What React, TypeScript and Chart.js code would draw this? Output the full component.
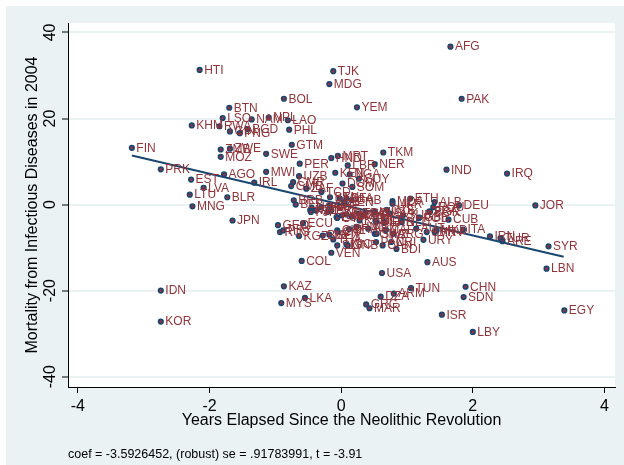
import React, { useEffect, useRef } from "react";
import { Chart, registerables } from "chart.js";

Chart.register(...registerables);

const codes = [
  "AFG","HTI","TJK","MDG","BOL","PAK","YEM","BTN","LSO","NAM","NPL","LAO","KHM","RWA","GIN","PNG","BGD","PHL","GTM","FIN",
  "ZMB","ZWE","MOZ","SWE","TKM","HND","MRT","PER","LBR","NER","IND","IRQ","PRK","MWI","UZB","KEN","NGA","GUY","AGO","EST",
  "IRL","LVA","LTU","BLR","MNG","JPN","CMR","GMB","ZAF","TCD","DOM","SOM","BEN","MLI","BFA","SEN","GAB","BRB","BEL","NOR",
  "NZL","CHE","PRT","ESP","MDA","UKR","ETH","ALB","ROU","BGR","DEU","CUB","ITA","MKD","HRV","SVN","AUT","IRN","TUR","ARE",
  "SYR","LBN","JOR","URY","FRA","POL","CZE","SVK","HUN","BIH","SRB","CAF","GHA","PAN","CAN","CRI","BDI","ARG","NLD","GBR",
  "AUS","USA","CHN","SDN","TUN","ARM","DZA","GRC","MAR","ISR","LBY","EGY","IDN","KOR","KAZ","MYS","LKA","COL","VEN","GEO",
  "ECU","RUS","PRY","KGZ","MEX","THA","BRA","CHL","SLV","NIC","AZE","TTO","JAM","FJI","SAU","KWT","OMN","ISL","LUX","CYP",
  "MLT","SUR","BLZ","HND2","ARM2","GNB","TGO","SLE","CIV","SWZ"
];
const xs = [
  1.66,-2.15,-0.12,-0.18,-0.87,1.83,0.24,-1.70,-1.80,-1.36,-1.10,-0.81,-2.27,-1.85,-1.69,-1.54,-1.42,-0.79,-0.75,-3.18,
  -1.83,-1.69,-1.83,-1.14,0.64,-0.15,-0.05,-0.63,0.10,0.51,1.60,2.52,-2.74,-1.14,-0.64,-0.09,0.13,0.27,-1.78,-2.28,
  -1.32,-2.09,-2.30,-1.73,-2.26,-1.65,-0.73,-0.76,-0.53,-0.30,0.02,0.17,-0.17,-0.02,0.08,0.05,0.16,-0.72,-0.69,-0.45,
  -0.47,-0.17,-0.15,-0.07,0.78,0.78,1.05,1.42,1.40,1.35,1.79,1.63,1.85,1.45,1.42,1.30,1.14,2.26,2.42,2.45,
  3.15,3.12,2.95,1.25,1.34,1.18,0.69,0.74,0.51,0.53,0.66,0.68,0.51,0.53,0.63,0.76,0.84,0.79,0.92,1.19,
  1.31,0.62,1.89,1.86,1.06,0.80,0.60,0.38,0.43,1.53,2.00,3.39,-2.74,-2.74,-0.87,-0.91,-0.55,-0.60,-0.15,-0.96,
  -0.58,-0.93,-0.88,-0.64,-0.18,-0.12,0.12,-0.06,-0.06,0.08,-0.38,-0.21,-0.30,-0.46,0.36,0.28,0.16,0.08,0.01,-0.06,
  0.52,0.94,-0.28,0.23,0.41,0.10,0.26,0.33,-0.05,0.54
];
const ys = [
  36.7,31.3,31.0,28.0,24.6,24.6,22.6,22.5,20.1,19.8,20.2,19.6,18.4,18.2,17.0,16.6,17.5,17.4,13.9,13.2,
  12.8,13.0,11.1,11.8,12.1,10.8,11.3,9.5,9.1,9.4,8.1,7.2,8.2,7.6,6.6,7.4,7.0,6.0,7.0,5.8,
  5.1,3.9,2.3,1.7,-0.4,-3.7,5.2,4.3,3.7,2.9,4.9,4.1,1.7,1.4,1.4,0.6,1.0,1.0,0.0,-0.7,
  -1.3,-0.2,-1.3,-2.9,0.8,0.2,1.4,0.6,-0.6,-1.7,-0.2,-3.5,-5.8,-6.0,-6.4,-6.4,-5.6,-7.4,-7.8,-8.5,
  -9.7,-14.9,-0.2,-8.2,-1.6,-3.1,-1.2,-2.1,-1.7,-4.1,-4.1,-5.9,-6.8,-8.7,-9.5,-8.7,-10.3,-6.8,-4.1,-3.0,
  -13.4,-15.9,-19.1,-21.5,-19.4,-20.7,-21.4,-23.2,-24.1,-25.6,-29.6,-24.6,-20.0,-27.2,-19.0,-22.9,-21.7,-13.1,-11.2,-4.8,
  -4.3,-6.4,-6.0,-7.3,-7.0,-8.1,-5.7,-6.0,-9.5,-9.3,-1.4,-1.7,-0.6,-1.7,-2.1,-3.7,-2.8,-2.3,-2.5,-3.1,
  -3.7,-2.5,-7.2,-5.2,-5.6,-9.5,-2.1,-2.5,-6.4,-6.8
];
const labels = codes.map((c) => c.replace(/\d+$/, ""));

const fitX = [-3.18, 3.38];
const fitY = [11.42, -12.14];

const xTicks = [-4, -2, 0, 2, 4];
const yTicks = [-40, -20, 0, 20, 40];

const xTitle = "Years Elapsed Since the Neolithic Revolution";
const yTitle = "Mortality from Infectious Diseases in 2004";
const note = "coef = -3.5926452, (robust) se = .91783991, t = -3.91";

const FONT = "'Liberation Sans', Arial, sans-serif";
const NAVY = "#1a476f";
const MAROON = "#90353b";
const BG = "#eaf2f3";

export default function App() {
  const ref = useRef<HTMLCanvasElement | null>(null);
  useEffect(() => {
    document.body.style.margin = "0";
    const canvas = ref.current!;
    const decor = {
      id: "decor",
      beforeDraw(chart: any) {
        const { ctx, chartArea: a } = chart;
        ctx.save();
        ctx.fillStyle = "#ffffff";
        ctx.fillRect(0, 0, 624, 465);
        ctx.fillStyle = BG;
        ctx.fillRect(6, 6, 618, 459);
        ctx.fillStyle = "#ffffff";
        ctx.fillRect(a.left, a.top, a.right - a.left, a.bottom - a.top);
        ctx.restore();
      },
      afterDatasetsDraw(chart: any) {
        const { ctx } = chart;
        const meta = chart.getDatasetMeta(1);
        ctx.save();
        ctx.font = `12px ${FONT}`;
        ctx.fillStyle = MAROON;
        ctx.textAlign = "left";
        ctx.textBaseline = "middle";
        meta.data.forEach((el: any, i: number) => {
          ctx.fillText(labels[i], el.x + 4.5, el.y + 0.5);
        });
        ctx.restore();
      },
      afterDraw(chart: any) {
        const { ctx, chartArea: a } = chart;
        const ys = chart.scales.y;
        ctx.save();
        ctx.fillStyle = "#000";
        ctx.font = `16px ${FONT}`;
        ctx.textAlign = "center";
        ctx.textBaseline = "middle";
        yTicks.forEach((t) => {
          const py = ys.getPixelForValue(t);
          ctx.save();
          ctx.translate(51, py);
          ctx.rotate(-Math.PI / 2);
          ctx.fillText(String(t), 0, 0);
          ctx.restore();
        });
        ctx.save();
        ctx.translate(33, (a.top + a.bottom) / 2);
        ctx.rotate(-Math.PI / 2);
        ctx.fillText(yTitle, 0, 0);
        ctx.restore();
        ctx.fillText(xTitle, (a.left + a.right) / 2, 421);
        ctx.font = `12.5px ${FONT}`;
        ctx.textAlign = "left";
        ctx.fillText(note, 68, 455);
        ctx.restore();
      },
    };
    const chart = new Chart(canvas, {
      type: "scatter",
      data: {
        datasets: [
          {
            type: "line",
            data: fitX.map((x, i) => ({ x, y: fitY[i] })),
            borderColor: NAVY,
            borderWidth: 2,
            pointRadius: 0,
            fill: false,
          } as any,
          {
            data: xs.map((x, i) => ({ x, y: ys[i] })),
            pointRadius: 2.3,
            pointBorderWidth: 1.6,
            pointBackgroundColor: "#8a3446",
            pointBorderColor: NAVY,
            pointHoverRadius: 2.3,
          },
        ],
      },
      options: {
        animation: false,
        responsive: false,
        devicePixelRatio: 1,
        events: [],
        layout: { padding: { top: 23, right: 9, left: 0, bottom: 0 } },
        plugins: { legend: { display: false }, tooltip: { enabled: false } },
        scales: {
          x: {
            type: "linear",
            min: -4.15,
            max: 4.16,
            afterBuildTicks: (s: any) => {
              s.ticks = xTicks.map((v) => ({ value: v }));
            },
            afterFit: (s: any) => {
              s.height = 78;
            },
            grid: {
              drawOnChartArea: false,
              drawTicks: true,
              tickLength: 6,
              tickColor: "#000",
            },
            border: { display: true, color: "#000", width: 1 },
            ticks: {
              color: "#000",
              font: { family: FONT, size: 16 },
              padding: 4,
              maxRotation: 0,
              callback: (v: any) => String(v),
            },
          },
          y: {
            type: "linear",
            min: -42.4,
            max: 42.2,
            afterBuildTicks: (s: any) => {
              s.ticks = yTicks.map((v) => ({ value: v }));
            },
            afterFit: (s: any) => {
              s.width = 68;
            },
            grid: {
              color: BG,
              lineWidth: 2,
              drawTicks: true,
              tickLength: 6,
              tickColor: "#000",
              tickWidth: 1,
            },
            border: { display: true, color: "#000", width: 1 },
            ticks: { display: false },
          },
        },
      },
      plugins: [decor],
    });
    return () => chart.destroy();
  }, []);
  return <canvas ref={ref} width={624} height={465} style={{ display: "block", width: 624, height: 465 }} />;
}
